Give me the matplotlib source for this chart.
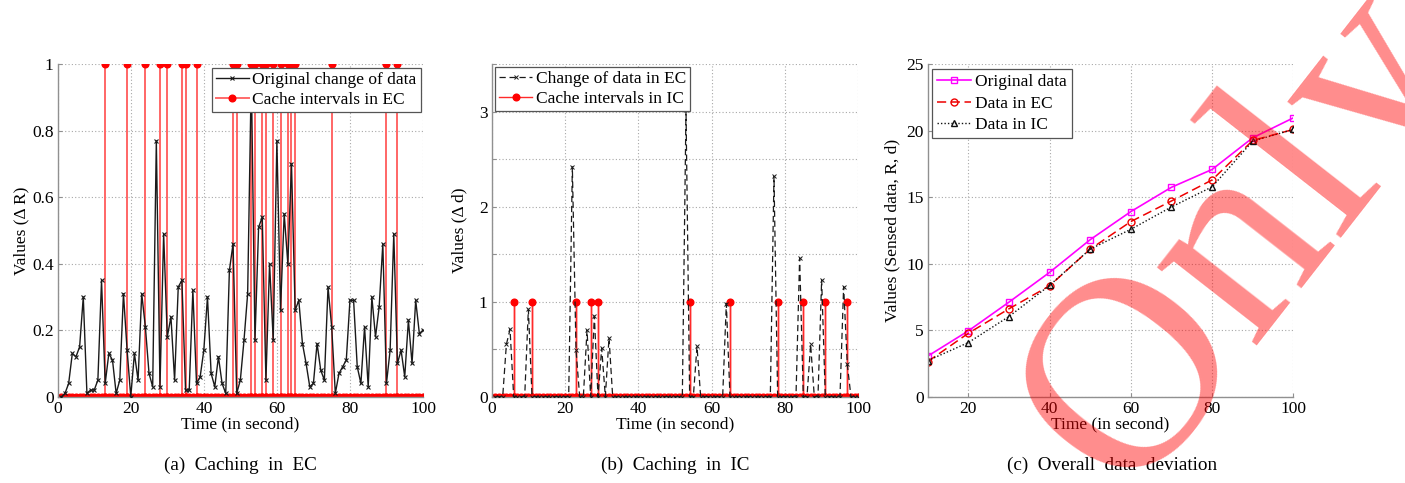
import numpy as np
import matplotlib
matplotlib.use("Agg")
import matplotlib.pyplot as plt

plt.rcParams['font.family'] = ['Liberation Serif', 'DejaVu Serif']
plt.rcParams['mathtext.fontset'] = 'stix'

# ---------------- data ----------------
time_s = list(range(1, 101))

ec_change = [0.00, 0.01, 0.04, 0.13, 0.12, 0.15, 0.30, 0.01, 0.02, 0.02,
             0.05, 0.35, 0.04, 0.13, 0.11, 0.01, 0.05, 0.31, 0.14, 0.00,
             0.13, 0.05, 0.31, 0.21, 0.07, 0.03, 0.77, 0.03, 0.49, 0.18,
             0.24, 0.05, 0.33, 0.35, 0.02, 0.02, 0.32, 0.04, 0.06, 0.14,
             0.30, 0.07, 0.03, 0.12, 0.04, 0.01, 0.38, 0.46, 0.01, 0.05,
             0.17, 0.31, 0.97, 0.17, 0.51, 0.54, 0.05, 0.40, 0.17, 0.77,
             0.26, 0.55, 0.40, 0.70, 0.26, 0.29, 0.16, 0.10, 0.03, 0.04,
             0.16, 0.08, 0.05, 0.33, 0.21, 0.01, 0.07, 0.09, 0.11, 0.29,
             0.29, 0.09, 0.04, 0.21, 0.03, 0.30, 0.18, 0.27, 0.46, 0.04,
             0.14, 0.49, 0.10, 0.14, 0.06, 0.23, 0.10, 0.29, 0.19, 0.20]
ec_cache_times = [13, 19, 24, 28, 30, 34, 35, 38, 48, 49, 53, 54, 56, 57,
                  59, 61, 63, 64, 65, 75, 90, 93]

ic_change = [0, 0, 0, 0.55, 0.71, 0, 0, 0, 0, 0.92,
             0, 0, 0, 0, 0, 0, 0, 0, 0, 0,
             0, 2.42, 0.49, 0, 0, 0.70, 0, 0.85, 0, 0.51,
             0, 0.62, 0, 0, 0, 0, 0, 0, 0, 0,
             0, 0, 0, 0, 0, 0, 0, 0, 0, 0,
             0, 0, 3.02, 0, 0, 0.53, 0, 0, 0, 0,
             0, 0, 0, 0.98, 0, 0, 0, 0, 0, 0,
             0, 0, 0, 0, 0, 0, 2.32, 0, 0, 0,
             0, 0, 0, 1.46, 0, 0, 0.55, 0, 0, 1.23,
             0, 0, 0, 0, 0, 1.16, 0.34, 0, 0, 0]
ic_cache_times = [6, 11, 23, 27, 29, 54, 65, 78, 85, 91, 97]

dev_time = [10, 20, 30, 40, 50, 60, 70, 80, 90, 100]
original_data = [3.05, 4.95, 7.11, 9.35, 11.81, 13.92, 15.75, 17.09, 19.47, 20.97]
data_in_ec = [2.64, 4.77, 6.61, 8.34, 11.10, 13.17, 14.72, 16.30, 19.27, 20.10]
data_in_ic = [2.71, 4.07, 6.03, 8.37, 11.10, 12.59, 14.27, 15.78, 19.22, 20.10]


def cache_series(times, cached):
    xs, ys = [], []
    for ti in times:
        if ti in cached:
            xs += [ti, ti, ti]
            ys += [0, 1, 0]
        else:
            xs.append(ti)
            ys.append(0)
    return xs, ys


# ---------------- figure ----------------
W, H = 1405, 483
fig = plt.figure(figsize=(W / 100, H / 100), dpi=100)
bottom = 1 - 396.7 / H
height = 332.4 / H
axA = fig.add_axes([57.7 / W, bottom, 365.3 / W, height])
axB = fig.add_axes([491.7 / W, bottom, 366.6 / W, height])
axC = fig.add_axes([927.7 / W, bottom, 365.6 / W, height])

FS = 12.5
grid_kw = dict(color='#a8a8a8', linestyle=(0, (1, 2)), linewidth=0.8)


def style(ax):
    ax.grid(True, **grid_kw)
    ax.set_axisbelow(True)
    for s in ['top', 'right']:
        ax.spines[s].set_visible(False)
    for s in ['left', 'bottom']:
        ax.spines[s].set_color('#909090')
        ax.spines[s].set_linewidth(1.0)
    ax.tick_params(direction='in', length=3, color='#909090', labelsize=FS,
                   pad=3)


# ---- panel (a)
xr, yr = cache_series(time_s, ec_cache_times)
lr, = axA.plot(xr, yr, color='#ff6a6a', lw=1.4, marker='o', ms=4.8,
               mfc='red', mec='red', zorder=2, label='Cache intervals in EC')
lb, = axA.plot(time_s, ec_change, color='#1a1a1a', lw=1.0, marker='x',
               ms=3.5, mew=0.8, zorder=3, label='Original change of data')
axA.set_xlim(0, 100)
axA.set_ylim(0, 1)
axA.set_xticks(range(0, 101, 20))
axA.set_yticks([0, 0.2, 0.4, 0.6, 0.8, 1])
axA.set_yticklabels(['0', '0.2', '0.4', '0.6', '0.8', '1'])
style(axA)
axA.set_xlabel('Time (in second)', fontsize=FS, labelpad=0)
axA.set_ylabel('Values (Δ R)', fontsize=FS, labelpad=2)
legA = axA.legend([lb, lr], ['Original change of data', 'Cache intervals in EC'],
                  loc='upper right', bbox_to_anchor=(421 / W, 1 - 68 / H),
                  bbox_transform=fig.transFigure, fontsize=FS, frameon=True,
                  fancybox=False, edgecolor='#555555', framealpha=1,
                  borderpad=0.25, labelspacing=0.2, handlelength=1.9,
                  handletextpad=0.2, borderaxespad=0)
legA.get_frame().set_linewidth(0.9)

# ---- panel (b)
xr2, yr2 = cache_series(time_s, ic_cache_times)
lr2, = axB.plot(xr2, yr2, color='#ff2a2a', lw=1.0, marker='o', ms=4.8,
                mfc='red', mec='red', zorder=2, label='Cache intervals in IC')
lb2, = axB.plot(time_s, ic_change, color='#1a1a1a', lw=0.9,
                linestyle=(0, (5, 3)), marker='x', ms=3.2, mew=0.7, zorder=3,
                label='Change of data in EC')
axB.set_xlim(0, 100)
axB.set_ylim(0, 3.5)
axB.set_xticks(range(0, 101, 20))
axB.set_yticks([0, 0.5, 1, 1.5, 2, 2.5, 3, 3.5])
axB.set_yticklabels(['0', '', '1', '', '2', '', '3', ''])
style(axB)
axB.set_xlabel('Time (in second)', fontsize=FS, labelpad=0)
axB.set_ylabel('Values (Δ d)', fontsize=FS, labelpad=8)
legB = axB.legend([lb2, lr2], ['Change of data in EC', 'Cache intervals in IC'],
                  loc='upper left', bbox_to_anchor=(495 / W, 1 - 67 / H),
                  bbox_transform=fig.transFigure, fontsize=FS, frameon=True,
                  fancybox=False, edgecolor='#555555', framealpha=1,
                  borderpad=0.25, labelspacing=0.2, handlelength=1.9,
                  handletextpad=0.2, borderaxespad=0)
legB.get_frame().set_linewidth(0.9)

# ---- panel (c)
axC.plot(dev_time, original_data, color='#ff00ff', lw=1.2, marker='s', ms=4.5,
         mfc='none', mew=1.0, label='Original data')
axC.plot(dev_time, data_in_ec, color='#ee0000', lw=1.1, linestyle=(0, (6, 3)),
         marker='o', ms=5, mfc='none', mew=1.0, label='Data in EC')
axC.plot(dev_time, data_in_ic, color='#111111', lw=1.0, linestyle=(0, (1, 1.5)),
         marker='^', ms=4.5, mfc='none', mew=1.0, label='Data in IC')
axC.set_xlim(10, 100)
axC.set_ylim(0, 25)
axC.set_xticks(range(20, 101, 20))
axC.set_yticks(range(0, 26, 5))
style(axC)
axC.set_xlabel('Time (in second)', fontsize=FS, labelpad=0)
axC.set_ylabel('Values (Sensed data, R, d)', fontsize=FS, labelpad=4)
legC = axC.legend(loc='upper left', bbox_to_anchor=(931.5 / W, 1 - 69 / H),
                  bbox_transform=fig.transFigure, fontsize=FS, frameon=True,
                  fancybox=False, edgecolor='#555555', framealpha=1,
                  borderpad=0.3, labelspacing=0.3, handlelength=2.0,
                  handletextpad=0.2, borderaxespad=0)
legC.get_frame().set_linewidth(0.9)

# ---- captions
CFS = 13.8
fig.text(240 / W, 1 - 465 / H, '(a)  Caching  in  EC', ha='center', va='center',
         fontsize=CFS)
fig.text(675 / W, 1 - 465 / H, '(b)  Caching  in  IC', ha='center', va='center',
         fontsize=CFS)
fig.text(1112 / W, 1 - 465 / H, '(c)  Overall  data  deviation', ha='center',
         va='center', fontsize=CFS)

# ---- watermark
fig.text(1245 / W, 1 - 240 / H, 'Only', rotation=52, rotation_mode='anchor',
         ha='center', va='center', fontsize=198, color='red', alpha=0.45,
         zorder=20)

fig.savefig('out.png', dpi=100)
